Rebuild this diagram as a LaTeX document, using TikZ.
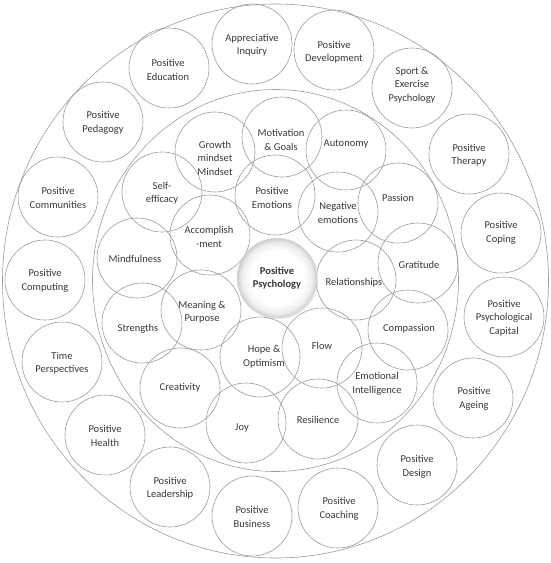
\documentclass[tikz,border=0pt]{standalone}
\usepackage{fontspec}
\setmainfont{Carlito}
\usetikzlibrary{shapes.geometric,shadows}
\definecolor{linegray}{HTML}{9C9C9C}
\definecolor{txtgray}{HTML}{383838}
\pgfdeclareradialshading{ppshade}{\pgfpoint{0bp}{0bp}}{color(0bp)=(white); color(17bp)=(white); color(22bp)=(black!7); color(25bp)=(black!20); color(50bp)=(black!20)}
\tikzset{
  bub/.style={circle, draw=linegray, line width=0.6pt, minimum size=80pt, inner sep=0pt},
  ring/.style={ellipse, draw=linegray, line width=0.6pt, inner sep=0pt},
  txt/.style={align=center, text=txtgray, font=\fontsize{10.5}{13.5}\selectfont, inner sep=0pt},
  core/.style={circle, draw=black!12, line width=0.4pt, minimum size=80pt, inner sep=0pt, shading=ppshade,
    drop shadow={opacity=0.2, shadow xshift=1.2pt, shadow yshift=-1.2pt}}
}
\begin{document}
\begin{tikzpicture}[x=1pt,y=-1pt]
\useasboundingbox (0,0) rectangle (550,563);
\node[ring, minimum width=546pt, minimum height=554pt] (outer) at (275.5,281) {};
\node[ring, minimum width=366pt, minimum height=382pt] (inner) at (275.5,280.5) {};
% outer ring
\node[bub] (apinq) at (252,44) {}; \node[txt] (apinq-t) at (252,45) {Appreciative\\Inquiry};
\node[bub] (pdev) at (334,50) {}; \node[txt] (pdev-t) at (334,52) {Positive\\Development};
\node[bub] (sport) at (412,88) {}; \node[txt] (sport-t) at (412,85) {Sport \&\\Exercise\\Psychology};
\node[bub] (pther) at (469,154) {}; \node[txt] (pther-t) at (469,155) {Positive\\Therapy};
\node[bub] (pcop) at (501,233) {}; \node[txt] (pcop-t) at (501,233) {Positive\\Coping};
\node[bub] (pcap) at (504,317) {}; \node[txt] (pcap-t) at (504,318) {Positive\\Psychological\\Capital};
\node[bub] (page) at (473,398) {}; \node[txt] (page-t) at (474,399) {Positive\\Ageing};
\node[bub] (pdes) at (417,465) {}; \node[txt] (pdes-t) at (417,467) {Positive\\Design};
\node[bub] (pcoach) at (338,508) {}; \node[txt] (pcoach-t) at (339,509) {Positive\\Coaching};
\node[bub] (pbus) at (252,516) {}; \node[txt] (pbus-t) at (252,517) {Positive\\Business};
\node[bub] (plead) at (170,487) {}; \node[txt] (plead-t) at (170,488) {Positive\\Leadership};
\node[bub] (phealth) at (105,435) {}; \node[txt] (phealth-t) at (105,436) {Positive\\Health};
\node[bub] (ptime) at (62,362) {}; \node[txt] (ptime-t) at (62,363) {Time\\Perspectives};
\node[bub] (pcomp) at (45,280) {}; \node[txt] (pcomp-t) at (45,281) {Positive\\Computing};
\node[bub] (pcomm) at (58,197) {}; \node[txt] (pcomm-t) at (58,198) {Positive\\Communities};
\node[bub] (pped) at (103,122) {}; \node[txt] (pped-t) at (103,123) {Positive\\Pedagogy};
\node[bub] (pedu) at (169,68) {}; \node[txt] (pedu-t) at (168,70) {Positive\\Education};
% inner ring
\node[bub] (growth) at (215,152) {}; \node[txt] (growth-t) at (215,158) {Growth\\mindset\\Mindset};
\node[bub] (motiv) at (282,137) {}; \node[txt] (motiv-t) at (281,140) {Motivation\\\& Goals};
\node[bub] (auton) at (346,150) {}; \node[txt] (auton-t) at (346,144) {Autonomy};
\node[bub] (self) at (162,192) {}; \node[txt] (self-t) at (162,193) {Self-\\efficacy};
\node[bub] (pemo) at (275,195) {}; \node[txt] (pemo-t) at (272,198) {Positive\\Emotions};
\node[bub] (neg) at (338,212) {}; \node[txt] (neg-t) at (338,213) {Negative\\emotions};
\node[bub] (passion) at (398,203) {}; \node[txt] (passion-t) at (398,198) {Passion};
\node[bub] (accomp) at (210,235) {}; \node[txt] (accomp-t) at (209,237) {Accomplish\\-ment};
\node[bub] (mind) at (137,258) {}; \node[txt] (mind-t) at (135,259) {Mindfulness};
\node[bub] (grat) at (418,263) {}; \node[txt] (grat-t) at (419,265) {Gratitude};
\node[bub] (rel) at (356,280) {}; \node[txt] (rel-t) at (354,283) {Relationships};
\node[bub] (mean) at (201,310) {}; \node[txt] (mean-t) at (202,312) {Meaning \&\\Purpose};
\node[bub] (str) at (142,323) {}; \node[txt] (str-t) at (138,329) {Strengths};
\node[bub] (comp) at (408,330) {}; \node[txt] (comp-t) at (409,329) {Compassion};
\node[bub] (flow) at (322,348) {}; \node[txt] (flow-t) at (322,346) {Flow};
\node[bub] (hope) at (260,357) {}; \node[txt] (hope-t) at (264,357) {Hope \&\\Optimism};
\node[bub] (emot) at (377,383) {}; \node[txt] (emot-t) at (377,384) {Emotional\\Intelligence};
\node[bub] (creat) at (180,388) {}; \node[txt] (creat-t) at (180,388) {Creativity};
\node[bub] (joy) at (246,423) {}; \node[txt] (joy-t) at (242,428) {Joy};
\node[bub] (resil) at (318,419) {}; \node[txt] (resil-t) at (318,420) {Resilience};
% centre
\node[core] (pp) at (277,278) {};
\node[txt, font=\fontsize{10.5}{13.5}\selectfont\bfseries] (pp-t) at (277,278) {Positive\\Psychology};
\end{tikzpicture}
\end{document}
